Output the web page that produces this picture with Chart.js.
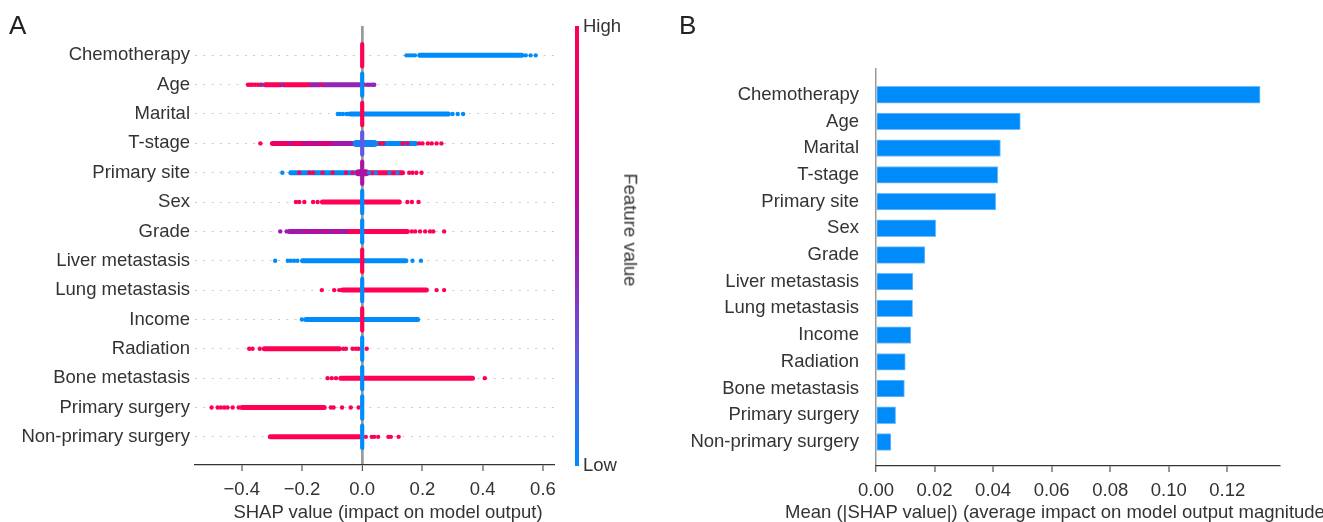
<!DOCTYPE html>
<html>
<head>
<meta charset="utf-8">
<title>SHAP summary</title>
<script src="https://cdn.jsdelivr.net/npm/chart.js@4.4.1/dist/chart.umd.min.js"></script>
<style>
  html, body { margin: 0; padding: 0; background: #fff; }
  body {
    width: 1323px; height: 522px; position: relative; overflow: hidden;
    font-family: 'Liberation Sans', Arial, sans-serif; color: #333;
  }
  .panel { position: absolute; top: 0; height: 522px; }
  #panel-a { left: 0; width: 660px; }
  #panel-b { left: 660px; width: 663px; }
  .txt { position: absolute; white-space: nowrap; line-height: 1; font-size: 18.5px; }
  .letter { font-size: 26px; color: #222; }
  #colorbar { position: absolute; left: 575px; top: 26px; width: 4px; height: 440px; }
</style>
</head>
<body>
  <div class="panel" id="panel-a"><canvas id="shap-summary" width="660" height="522"></canvas></div>
  <div class="panel" id="panel-b"><canvas id="shap-bar" width="663" height="522"></canvas></div>

  <div class="txt letter" style="left:9px; top:12px;">A</div>
  <div class="txt letter" style="left:679px; top:12px;">B</div>

  <div id="colorbar"></div>
  <div class="txt" style="left:583px; top:26px; transform:translateY(-50%);">High</div>
  <div class="txt" style="left:583px; top:465px; transform:translateY(-50%);">Low</div>
  <div class="txt" style="left:630px; top:230px; transform:translate(-50%,-50%) rotate(90deg);">Feature value</div>

  <div class="txt" style="left:388px; top:512px; transform:translate(-50%,-50%);">SHAP value (impact on model output)</div>
  <div class="txt" style="left:785px; top:512px; transform:translateY(-50%);">Mean (|SHAP value|) (average impact on model output magnitude)</div>

<script>
  'use strict';

  const FONT = "'Liberation Sans', Arial, sans-serif";

  // Features, ordered by importance
  const features = [
    'Chemotherapy', 'Age', 'Marital', 'T-stage', 'Primary site', 'Sex', 'Grade',
    'Liver metastasis', 'Lung metastasis', 'Income', 'Radiation', 'Bone metastasis',
    'Primary surgery', 'Non-primary surgery'
  ];

  // Mean |SHAP value| per feature
  const meanAbsShap = [
    0.1312, 0.0493, 0.0425, 0.0416, 0.0409, 0.0204, 0.0167,
    0.0126, 0.0125, 0.0119, 0.0100, 0.0097, 0.0067, 0.0051
  ];

  // Dense stretches of the beeswarm, per feature: [shap from, shap to, feature value 0..1]
  const denseRuns = [
    [[0.191, 0.530, 0]],
    [[-0.322, -0.270, 1], [-0.262, -0.181, 1], [-0.176, -0.140, 0.45], [-0.132, -0.008, 0.45]],
    [[-0.039, 0.286, 0]],
    [[-0.298, -0.209, 0.9], [-0.209, -0.110, 0.75], [-0.110, -0.015, 0.5], [-0.015, 0.178, 0]],
    [[-0.237, -0.015, 0], [-0.015, 0.134, 1]],
    [[-0.132, 0.123, 1]],
    [[-0.242, -0.054, 0.5], [-0.054, 0.150, 1]],
    [[-0.198, 0.145, 0]],
    [[-0.065, 0.213, 1]],
    [[-0.187, 0.184, 0]],
    [[-0.325, -0.076, 1]],
    [[-0.071, 0.366, 1]],
    [[-0.399, -0.126, 1]],
    [[-0.305, -0.004, 1]]
  ];

  // Thicker clumps right around zero: [feature index, shap from, shap to, feature value]
  const zeroClumps = [
    [3, -0.020, 0.040, 0.05],
    [4, -0.012, 0.012, 0.6]
  ];

  // Isolated points, per feature: [shap value, feature value 0..1]
  const loosePoints = [
    [[0.147, 0], [0.156, 0], [0.165, 0], [0.175, 0], [0.543, 0], [0.559, 0], [0.576, 0]],
    [[-0.379, 1], [-0.372, 1], [-0.364, 1], [-0.355, 1], [-0.346, 1], [-0.338, 1], [-0.333, 0.45],
     [-0.266, 0.45], [-0.137, 1], [0.007, 1], [0.017, 0.45], [0.025, 0.45], [0.034, 0.45], [0.040, 0.45]],
    [[-0.081, 0], [-0.074, 0], [-0.064, 0], [-0.052, 0], [-0.045, 0], [0.300, 0], [0.317, 0], [0.335, 0]],
    [[-0.338, 1], [-0.242, 0.5], [-0.187, 0.5], [-0.154, 0.5], [0.059, 1], [0.070, 1], [0.134, 1], [0.150, 1],
     [0.189, 1], [0.200, 1], [0.218, 1], [0.231, 1], [0.247, 1], [0.263, 1]],
    [[-0.265, 0], [-0.209, 1], [-0.176, 1], [-0.163, 1], [-0.132, 1], [-0.098, 1], [-0.054, 1], [-0.032, 1],
     [0.023, 0], [0.045, 0], [0.090, 0], [0.117, 0], [0.156, 1], [0.167, 1], [0.180, 1], [0.197, 1]],
    [[-0.220, 1], [-0.209, 1], [-0.192, 1], [-0.163, 1], [-0.148, 1], [0.150, 1], [0.165, 1], [0.187, 1]],
    [[-0.272, 0.5], [-0.251, 0.5], [-0.187, 0.7], [-0.154, 0.7], [-0.121, 0.7], [-0.087, 0.7],
     [0.165, 1], [0.176, 1], [0.192, 1], [0.209, 1], [0.225, 1], [0.236, 1], [0.272, 1]],
    [[-0.289, 0], [-0.247, 0], [-0.237, 0], [-0.226, 0], [-0.215, 0], [0.167, 0], [0.195, 0]],
    [[-0.134, 1], [-0.093, 1], [-0.076, 1], [0.247, 1], [0.272, 1]],
    [[-0.200, 0]],
    [[-0.375, 1], [-0.364, 1], [-0.340, 1], [-0.063, 1], [-0.054, 1], [-0.032, 1], [-0.021, 1], [-0.012, 1], [0.015, 1]],
    [[-0.115, 1], [-0.101, 1], [-0.087, 1], [0.407, 1]],
    [[-0.500, 1], [-0.480, 1], [-0.469, 1], [-0.458, 1], [-0.447, 1], [-0.430, 1], [-0.410, 1],
     [-0.104, 1], [-0.095, 1], [-0.067, 1], [-0.038, 1], [-0.012, 1]],
    [[0.012, 1], [0.032, 1], [0.040, 1], [0.053, 1], [0.087, 1], [0.095, 1], [0.121, 1]]
  ];

  // Feature value of the pile of samples stacked at SHAP = 0
  const zeroPile = [1, 0, 1, 0.25, 0.55, 0, 0, 1, 0, 1, 0, 0, 0, 0];

  // Axis ticks
  const shapTicks = [-0.4, -0.2, 0, 0.2, 0.4, 0.6];
  const meanTicks = [0, 0.02, 0.04, 0.06, 0.08, 0.10, 0.12];

  // Low -> high feature value colour map (blue -> purple -> red)
  const cmapStops = [
    [0.00, [0, 139, 251]],
    [0.25, [95, 90, 225]],
    [0.50, [160, 24, 172]],
    [0.75, [215, 0, 128]],
    [1.00, [255, 0, 82]]
  ];

  function featureColor(v) {
    for (let i = 1; i < cmapStops.length; i++) {
      const [p1, c1] = cmapStops[i];
      const [p0, c0] = cmapStops[i - 1];
      if (v <= p1) {
        const t = (v - p0) / (p1 - p0);
        const c = c0.map((ch, k) => Math.round(ch + (c1[k] - ch) * t));
        return `rgb(${c[0]}, ${c[1]}, ${c[2]})`;
      }
    }
    const c = cmapStops[cmapStops.length - 1][1];
    return `rgb(${c[0]}, ${c[1]}, ${c[2]})`;
  }

  document.getElementById('colorbar').style.background =
    'linear-gradient(to top, ' + cmapStops.map(([p]) => `${featureColor(p)} ${p * 100}%`).join(', ') + ')';

  const minus = v => (v < 0 ? '\u2212' : '') + Math.abs(v).toFixed(1);
  const isZeroTick = ctx => ctx.tick && Math.abs(ctx.tick.value) < 1e-9;

  function segment(x0, x1, y0, y1, color, width, order) {
    return {
      data: [{ x: x0, y: y0 }, { x: x1, y: y1 }],
      showLine: true,
      borderColor: color,
      borderWidth: width,
      borderCapStyle: 'round',
      pointRadius: 0,
      order
    };
  }

  /**
   * Beeswarm summary (panel A)
   */
  function renderSummary() {
    const datasets = [];

    denseRuns.forEach((runs, row) => {
      runs.forEach(([from, to, fv]) => {
        datasets.push(segment(from, to, row, row, featureColor(fv), 5, 4));
      });
    });

    zeroClumps.forEach(([row, from, to, fv]) => {
      datasets.push(segment(from, to, row, row, featureColor(fv), 7, 3));
    });

    const dots = [];
    const dotColors = [];
    loosePoints.forEach((pts, row) => {
      pts.forEach(([x, fv]) => {
        dots.push({ x, y: row });
        dotColors.push(featureColor(fv));
      });
    });
    datasets.push({
      data: dots,
      pointRadius: 2.2,
      pointBorderWidth: 0,
      pointBackgroundColor: dotColors,
      order: 2
    });

    zeroPile.forEach((fv, row) => {
      datasets.push(segment(0, 0, row - 0.38, row + 0.38, featureColor(fv), 4.2, 1));
    });

    new Chart(document.getElementById('shap-summary'), {
      type: 'scatter',
      data: { datasets },
      options: {
        responsive: false,
        animation: false,
        events: [],
        layout: { padding: { left: 0, top: 26, right: 105, bottom: 0 } },
        plugins: { legend: { display: false }, tooltip: { enabled: false } },
        scales: {
          x: {
            type: 'linear',
            min: -0.555,
            max: 0.64,
            afterBuildTicks: s => { s.ticks = shapTicks.map(v => ({ value: v })); },
            afterFit: s => { s.height = 57; },
            ticks: {
              callback: v => minus(v),
              color: '#333',
              padding: 8,
              maxRotation: 0,
              font: { family: FONT, size: 18.5 }
            },
            grid: {
              drawOnChartArea: true,
              color: ctx => isZeroTick(ctx) ? '#999999' : 'rgba(0,0,0,0)',
              lineWidth: ctx => isZeroTick(ctx) ? 2.7 : 0,
              tickColor: '#333',
              tickLength: 6,
              tickWidth: 1
            },
            border: { display: true, color: '#333', width: 1.3 }
          },
          y: {
            type: 'linear',
            reverse: true,
            offset: false,
            min: -1,
            max: 13.96,
            afterBuildTicks: s => { s.ticks = features.map((f, i) => ({ value: i })); },
            afterFit: s => { s.width = 195; },
            ticks: {
              callback: v => features[v],
              color: '#333',
              padding: 5,
              autoSkip: false,
              font: { family: FONT, size: 18.5 }
            },
            grid: { color: '#cccccc', lineWidth: 1.1, drawTicks: false },
            border: { display: false, dash: [2, 6.3] }
          }
        }
      }
    });
  }

  /**
   * Mean |SHAP| bar chart (panel B)
   */
  function renderBars() {
    new Chart(document.getElementById('shap-bar'), {
      type: 'bar',
      data: {
        datasets: [{
          data: meanAbsShap.map((v, i) => ({ x: v, y: i })),
          backgroundColor: '#008bfb',
          borderColor: '#74bcfc',
          borderWidth: 1,
          borderSkipped: false,
          barThickness: 16.7
        }]
      },
      options: {
        indexAxis: 'y',
        responsive: false,
        animation: false,
        events: [],
        layout: { padding: { left: 0, top: 68, right: 43, bottom: 0 } },
        plugins: { legend: { display: false }, tooltip: { enabled: false } },
        scales: {
          x: {
            type: 'linear',
            min: 0,
            max: 0.138,
            afterBuildTicks: s => { s.ticks = meanTicks.map(v => ({ value: v })); },
            afterFit: s => { s.height = 56; },
            ticks: {
              callback: v => v.toFixed(2),
              color: '#333',
              padding: 8,
              maxRotation: 0,
              font: { family: FONT, size: 18.5 }
            },
            grid: {
              drawOnChartArea: true,
              color: ctx => isZeroTick(ctx) ? '#999999' : 'rgba(0,0,0,0)',
              lineWidth: ctx => isZeroTick(ctx) ? 1.5 : 0,
              tickColor: '#333',
              tickLength: 6,
              tickWidth: 1
            },
            border: { display: true, color: '#333', width: 1.3 }
          },
          y: {
            type: 'linear',
            reverse: true,
            offset: false,
            min: -1,
            max: 13.9,
            afterBuildTicks: s => { s.ticks = features.map((f, i) => ({ value: i })); },
            afterFit: s => { s.width = 216; },
            ticks: {
              callback: v => features[v],
              color: '#333',
              padding: 9,
              autoSkip: false,
              font: { family: FONT, size: 18.5 }
            },
            grid: { display: false },
            border: { display: false }
          }
        }
      }
    });
  }

  renderSummary();
  renderBars();
</script>
</body>
</html>
